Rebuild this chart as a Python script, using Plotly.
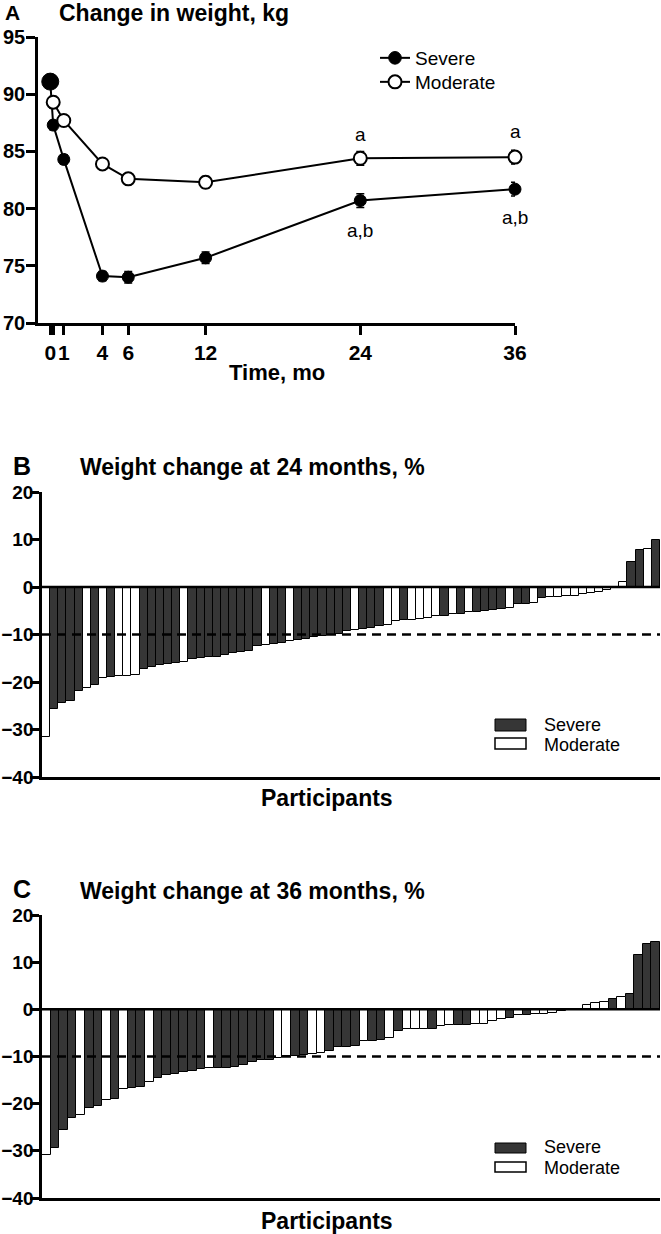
import plotly.graph_objects as go

W, H = 661, 1234
FONT = "Liberation Sans, Arial, Helvetica, sans-serif"

# ---------------- Panel A data ----------------
time_severe = [-0.05, 0.18, 1, 4, 6, 12, 24, 36]
weight_severe = [91.1, 87.3, 84.3, 74.1, 74.0, 75.7, 80.7, 81.7]
sem_severe = [0.4, 0.4, 0.4, 0.4, 0.5, 0.5, 0.6, 0.6]
time_moderate = [0.18, 1, 4, 6, 12, 24, 36]
weight_moderate = [89.3, 87.7, 83.9, 82.6, 82.3, 84.4, 84.5]
sem_moderate = [0.5, 0.4, 0.4, 0.4, 0.5, 0.6, 0.6]
time_tickvals = [-0.05, 0.18, 1, 4, 6, 12, 24, 36]
time_ticktext = ["0", "", "1", "4", "6", "12", "24", "36"]
weight_ticks = [70, 75, 80, 85, 90, 95]

# ---------------- Panel B data (24 months) ----------------
change24 = [-31.6, -25.6, -24.5, -24.1, -21.8, -21.2, -20.6, -19.1, -18.9, -18.8,
            -18.8, -18.5, -17.2, -16.8, -16.4, -16.2, -16.1, -15.8, -15.2, -15.0,
            -14.8, -14.7, -14.4, -13.9, -13.6, -13.4, -12.5, -12.3, -12.0, -11.7,
            -11.3, -11.1, -10.9, -10.6, -10.4, -10.1, -9.9, -9.3, -9.0, -8.9,
            -8.6, -8.3, -7.9, -7.2, -7.0, -6.9, -6.7, -6.5, -6.2, -6.0,
            -5.7, -5.6, -5.2, -5.2, -5.0, -4.8, -4.7, -4.5, -3.5, -3.5,
            -3.3, -2.4, -2.1, -2.1, -1.9, -1.9, -1.5, -1.3, -1.1, -0.7,
            -0.2, 1.0, 5.3, 7.7, 8.0, 9.8]
group24 = ["M", "S", "S", "S", "S", "M", "S", "M", "S", "M",
           "M", "M", "S", "S", "S", "S", "S", "M", "S", "S",
           "S", "S", "S", "S", "S", "S", "S", "M", "S", "S",
           "M", "S", "S", "S", "S", "S", "S", "S", "M", "S",
           "S", "S", "M", "M", "S", "M", "M", "M", "M", "S",
           "M", "S", "M", "S", "S", "S", "S", "M", "S", "S",
           "M", "S", "M", "M", "M", "M", "M", "M", "M", "M",
           "M", "M", "S", "S", "M", "S"]

# ---------------- Panel C data (36 months) ----------------
change36 = [-30.8, -29.4, -25.6, -23.0, -22.5, -20.9, -20.4, -19.2, -19.0, -16.9,
            -16.6, -16.5, -15.4, -14.6, -13.9, -13.7, -13.2, -13.0, -12.7, -12.5,
            -12.5, -12.5, -12.3, -11.8, -11.1, -10.8, -10.7, -10.4, -9.8, -9.8,
            -9.6, -9.4, -9.3, -8.8, -7.9, -7.9, -7.7, -6.8, -6.8, -6.4,
            -6.1, -4.5, -4.1, -4.1, -4.1, -4.1, -3.6, -3.4, -3.4, -3.3,
            -3.1, -3.1, -2.5, -2.0, -1.8, -1.3, -1.3, -0.9, -0.9, -0.7,
            -0.4, -0.2, 0.1, 0.9, 1.3, 1.5, 2.2, 2.6, 3.3, 11.5,
            13.8, 14.3]
group36 = ["M", "S", "S", "S", "M", "S", "S", "M", "S", "M",
           "S", "S", "M", "S", "S", "S", "S", "S", "S", "M",
           "S", "S", "S", "S", "S", "S", "S", "M", "M", "S",
           "S", "M", "M", "S", "S", "S", "S", "M", "S", "S",
           "M", "S", "M", "M", "M", "S", "M", "M", "S", "S",
           "M", "M", "M", "M", "S", "M", "S", "M", "M", "M",
           "S", "S", "S", "M", "M", "M", "S", "M", "S", "S",
           "S", "S"]
pct_ticks = [-40, -30, -20, -10, 0, 10, 20]

DARK = "#363636"


def px(x):
    return x / W


def py(y):
    return 1 - y / H


fig = go.Figure()

# Panel A lines
fig.add_trace(go.Scatter(
    x=time_severe, y=weight_severe, name="Severe", mode="lines+markers",
    opacity=1, legend="legend",
    line=dict(color="black", width=2),
    marker=dict(color="black", opacity=1, size=[17] + [12] * (len(time_severe) - 1),
                line=dict(color="black", width=1)),
    error_y=dict(type="data", array=sem_severe, color="black", thickness=1.5, width=4),
    cliponaxis=False, xaxis="x", yaxis="y"))
fig.add_trace(go.Scatter(
    x=time_moderate, y=weight_moderate, name="Moderate", mode="lines+markers",
    opacity=1, legend="legend2",
    line=dict(color="black", width=2),
    marker=dict(color="white", opacity=1, size=13, line=dict(color="black", width=2)),
    error_y=dict(type="data", array=sem_moderate, color="black", thickness=1.5, width=4),
    cliponaxis=False, xaxis="x", yaxis="y"))


def add_bars(values, groups, xa, ya):
    ranks = list(range(1, len(values) + 1))
    for g, fill in (("S", DARK), ("M", "white")):
        xs = [r for r, gg in zip(ranks, groups) if gg == g]
        ys = [v for v, gg in zip(values, groups) if gg == g]
        fig.add_trace(go.Bar(
            x=xs, y=ys, width=1, opacity=1,
            marker=dict(color=fill, line=dict(color="black", width=1)),
            showlegend=False, xaxis=xa, yaxis=ya,
            name="Severe" if g == "S" else "Moderate"))


add_bars(change24, group24, "x2", "y2")
add_bars(change36, group36, "x3", "y3")

tickfont = dict(family=FONT, size=21, color="black", weight="bold")
axis_common = dict(showline=True, linecolor="black", linewidth=2.5, ticks="outside",
                   ticklen=9, tickwidth=2.5, tickcolor="black", showgrid=False,
                   zeroline=False, tickfont=tickfont, automargin=False, tickangle=0)
yA = dict(axis_common, tickfont=dict(tickfont, size=20), ticklabelstandoff=-3)
ybar_common = dict(axis_common, tickfont=dict(tickfont, size=19), ticklen=9,
                   ticklabelstandoff=-7)
xbar_common = dict(showline=True, linecolor="black", linewidth=2.5, ticks="",
                   showticklabels=False, showgrid=False, zeroline=False, automargin=False)

legend_style = dict(xanchor="left", yanchor="middle",
                    font=dict(family=FONT, size=19, color="black"),
                    bgcolor="rgba(0,0,0,0)", itemwidth=30, tracegroupgap=0)

fig.update_layout(
    width=W, height=H, margin=dict(l=0, r=0, t=0, b=0, autoexpand=False),
    paper_bgcolor="white", plot_bgcolor="white",
    font=dict(family=FONT, color="black"),
    barmode="overlay", bargap=0,
    showlegend=True,
    legend=dict(x=px(375), y=py(58), **legend_style),
    legend2=dict(x=px(375), y=py(82), **legend_style),
    xaxis=dict(domain=[px(38), px(515)], range=[-1, 36], anchor="y",
               tickvals=time_tickvals, ticktext=time_ticktext, **axis_common),
    yaxis=dict(domain=[py(323), py(37)], range=[70, 95], anchor="x",
               tickvals=weight_ticks, **yA),
    xaxis2=dict(domain=[px(42), px(660)], range=[0.5, len(change24) + 0.5], anchor="y2",
                **xbar_common),
    yaxis2=dict(domain=[py(777), py(492)], range=[-40, 20], anchor="x2",
                tickvals=pct_ticks, **ybar_common),
    xaxis3=dict(domain=[px(42), px(660)], range=[0.5, len(change36) + 0.5], anchor="y3",
                **xbar_common),
    yaxis3=dict(domain=[py(1198), py(915)], range=[-40, 20], anchor="x3",
                tickvals=pct_ticks, **ybar_common),
)

shapes = []
for xa, ya in (("x2", "y2"), ("x3", "y3")):
    shapes.append(dict(type="line", xref=f"{xa} domain", yref=ya, x0=0, x1=1, y0=0, y1=0,
                       line=dict(color="black", width=2.5)))
    shapes.append(dict(type="line", xref=f"{xa} domain", yref=ya, x0=0, x1=1, y0=-10, y1=-10,
                       line=dict(color="black", width=2.5, dash="9px,6px")))

# manual legends for bar panels
legend_rows = [(719, 731, 738, 749, 724.5, 745), (1143, 1153, 1162, 1172, 1146.5, 1168)]
annotations = []
for d0, d1, m0, m1, ts, tm in legend_rows:
    shapes.append(dict(type="rect", xref="paper", yref="paper", x0=px(495), x1=px(526),
                       y0=py(d1), y1=py(d0), fillcolor=DARK, line=dict(color="black", width=1)))
    shapes.append(dict(type="rect", xref="paper", yref="paper", x0=px(495), x1=px(526),
                       y0=py(m1), y1=py(m0), fillcolor="white", line=dict(color="black", width=1.5)))
    annotations.append(dict(text="Severe", x=px(542), y=py(ts), xref="paper", yref="paper",
                            xanchor="left", yanchor="middle", showarrow=False,
                            font=dict(family=FONT, size=18, color="black")))
    annotations.append(dict(text="Moderate", x=px(542), y=py(tm), xref="paper", yref="paper",
                            xanchor="left", yanchor="middle", showarrow=False,
                            font=dict(family=FONT, size=18, color="black")))

bold = lambda s: dict(family=FONT, size=s, color="black", weight="bold")
annotations.append(dict(text="A", x=px(4), y=1, xref="paper", yref="paper",
                        xanchor="left", yanchor="top", showarrow=False, font=bold(21),
                        borderpad=0))
titles = [
    ("Change in weight, kg", 57, 13, 23, "left"),
    ("Time, mo", 277, 372, 22, "center"),
    ("B", 11, 466, 25, "left"),
    ("Weight change at 24 months, %", 78, 467, 23, "left"),
    ("Participants", 327, 798, 23, "center"),
    ("C", 11, 889, 25, "left"),
    ("Weight change at 36 months, %", 78, 891, 23, "left"),
    ("Participants", 327, 1221, 23, "center"),
]
for t, x, y, s, xa in titles:
    annotations.append(dict(text=t, x=px(x), y=py(y), xref="paper", yref="paper",
                            xanchor=xa, yanchor="middle", showarrow=False, font=bold(s)))

# significance labels in panel A
sig = [(24, weight_moderate[5], "a", 24), (36, weight_moderate[6], "a", 26),
       (24, weight_severe[6], "a,b", -30), (36, weight_severe[7], "a,b", -28)]
for x, y, t, sh in sig:
    annotations.append(dict(text=t, x=x, y=y, xref="x", yref="y", yshift=sh,
                            showarrow=False, font=dict(family=FONT, size=19, color="black")))

fig.update_layout(shapes=shapes, annotations=annotations)
fig.write_html("out.html", config={"displayModeBar": False},
               post_script="document.body.style.margin='0px';document.body.style.padding='0px';")
